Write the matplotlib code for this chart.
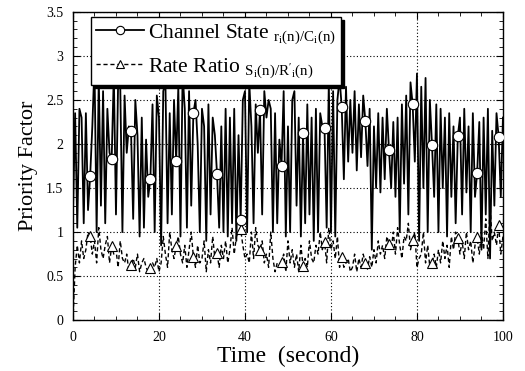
import numpy as np
import matplotlib.pyplot as plt
from matplotlib.ticker import MultipleLocator, FormatStrFormatter

# channel state r_i(n)/C_i(n), one sample every 0.5 s
channel_state = [
    1.20, 2.35, 1.05, 2.40, 2.30, 1.10, 2.35, 1.25, 1.64, 2.20,
    2.90, 1.00, 2.75, 1.30, 2.60, 1.10, 2.40, 1.90, 1.83, 2.80,
    1.20, 2.70, 2.65, 1.00, 2.55, 1.90, 2.20, 2.15, 1.15, 2.50,
    2.10, 0.95, 2.30, 1.05, 2.05, 1.40, 1.60, 2.45, 1.00, 2.55,
    2.30, 0.85, 2.60, 2.70, 1.10, 2.35, 1.20, 2.50, 1.81, 2.65,
    0.95, 2.80, 2.40, 1.05, 2.60, 1.30, 2.35, 2.50, 2.00, 1.00,
    2.40, 2.20, 0.90, 2.45, 1.20, 2.30, 2.10, 1.66, 1.05, 2.20,
    1.00, 2.40, 0.95, 2.30, 1.10, 2.40, 0.90, 2.10, 1.14, 2.50,
    2.60, 1.00, 2.70, 2.20, 1.10, 2.45, 1.90, 2.39, 1.20, 2.60,
    2.30, 2.50, 2.40, 1.00, 2.35, 1.10, 2.05, 1.75, 2.60, 0.95,
    2.20, 1.00, 2.50, 2.60, 1.30, 2.30, 0.95, 2.12, 1.10, 2.45,
    1.20, 2.30, 0.90, 2.40, 1.00, 2.35, 2.20, 2.18, 1.05, 2.70,
    1.00, 2.60, 0.95, 2.50, 2.75, 2.42, 1.60, 2.65, 1.80, 2.50,
    1.90, 2.60, 1.70, 2.45, 1.85, 2.55, 2.26, 1.75, 2.40, 0.80,
    2.20, 1.50, 2.35, 1.45, 2.30, 1.60, 2.40, 1.93, 1.50, 2.25,
    1.40, 2.30, 1.00, 2.45, 1.55, 2.55, 1.20, 2.70, 2.45, 1.80,
    2.80, 0.90, 2.65, 1.50, 2.75, 1.00, 2.50, 1.99, 1.40, 2.45,
    1.00, 2.40, 1.50, 2.30, 0.95, 2.35, 1.40, 2.20, 1.10, 2.09,
    2.30, 1.20, 2.40, 1.45, 2.20, 1.00, 2.35, 1.40, 1.67, 2.25,
    0.80, 2.30, 1.20, 2.40, 0.70, 2.15, 1.30, 2.35, 2.08, 1.40,
    2.30,
]

# rate ratio S_i(n)/R'_i(n)
rate_ratio = [
    0.00, 0.60, 0.85, 0.65, 0.90, 0.70, 0.80, 1.00, 0.95, 0.75,
    0.90, 0.65, 1.05, 0.80, 0.70, 0.85, 0.95, 0.65, 0.84, 0.75,
    0.80, 0.60, 0.90, 0.70, 0.65, 0.75, 0.55, 0.63, 0.70, 0.60,
    0.75, 0.55, 0.65, 0.70, 0.60, 0.55, 0.59, 0.65, 0.60, 0.70,
    0.55, 0.65, 0.95, 0.75, 0.60, 1.00, 0.80, 0.70, 0.84, 0.95,
    0.75, 0.65, 0.85, 0.60, 0.80, 1.00, 0.72, 0.60, 0.85, 0.65,
    0.70, 0.90, 0.55, 0.80, 0.65, 0.95, 0.70, 0.76, 0.60, 0.85,
    0.70, 0.90, 0.65, 0.80, 1.05, 0.75, 0.95, 1.00, 1.03, 0.85,
    0.70, 0.75, 0.65, 1.00, 0.70, 1.05, 0.85, 0.80, 0.90, 0.65,
    0.75, 0.60, 1.00, 0.70, 0.55, 0.65, 0.60, 0.66, 0.75, 0.55,
    0.90, 0.65, 0.80, 0.60, 0.75, 0.55, 0.85, 0.62, 0.70, 0.60,
    0.90, 0.70, 0.65, 0.85, 0.75, 1.00, 0.80, 0.89, 0.65, 1.05,
    0.80, 0.90, 0.70, 0.95, 0.60, 0.72, 0.60, 0.65, 0.70, 0.55,
    0.60, 0.75, 0.55, 0.70, 0.60, 0.75, 0.65, 0.58, 0.72, 0.60,
    0.80, 0.65, 0.90, 0.75, 0.85, 0.70, 0.95, 0.87, 0.80, 1.00,
    0.75, 1.05, 0.85, 0.70, 0.95, 0.90, 1.10, 0.80, 0.91, 1.00,
    0.60, 0.70, 0.75, 1.00, 0.65, 0.85, 0.60, 0.65, 0.75, 0.60,
    0.80, 0.65, 0.90, 0.70, 0.85, 0.60, 0.95, 0.80, 1.00, 0.93,
    0.75, 0.90, 0.70, 1.00, 0.80, 0.90, 0.65, 0.85, 0.94, 0.75,
    1.00, 0.80, 1.15, 0.70, 1.30, 0.90, 1.00, 0.85, 1.08, 0.75,
    0.95,
]

# samples that carry a marker
marker_idx = [8, 18, 27, 36, 48, 56, 67, 78, 87, 97,
              107, 117, 125, 136, 147, 158, 167, 179, 188, 198]

time = np.linspace(0, 100, len(channel_state))

plt.rcParams["font.family"] = "Liberation Serif"
plt.rcParams["mathtext.fontset"] = "custom"
plt.rcParams["mathtext.rm"] = "Liberation Serif"
plt.rcParams["mathtext.it"] = "Liberation Serif"

fig = plt.figure(figsize=(5.25, 3.71), dpi=100)
ax = fig.add_axes([0.139, 0.137, 0.819, 0.831])

ax.plot(time, channel_state, color="black", lw=1.3, marker="o", markersize=7.5,
        markerfacecolor="white", markeredgecolor="black", markeredgewidth=0.8,
        markevery=marker_idx,
        label=r"Channel State $\mathregular{_{r_i(n)/C_i(n)}}$", zorder=3)
ax.plot(time, rate_ratio, color="black", lw=1.0, ls=(0, (3, 2)), marker="^",
        markersize=7.5, markerfacecolor="white", markeredgecolor="black",
        markeredgewidth=0.8, markevery=marker_idx,
        label=r"Rate Ratio $\mathregular{_{S_i(n)/R'_i(n)}}$", zorder=2)

ax.set_xlim(0, 100)
ax.set_ylim(0, 3.5)
ax.xaxis.set_major_locator(MultipleLocator(20))
ax.xaxis.set_minor_locator(MultipleLocator(5))
ax.yaxis.set_major_locator(MultipleLocator(0.5))
ax.yaxis.set_minor_locator(MultipleLocator(0.1))
ax.yaxis.set_major_formatter(FormatStrFormatter("%g"))
ax.tick_params(which="both", direction="in", top=True, right=True, labelsize=10)
ax.tick_params(which="major", length=5)
ax.tick_params(which="minor", length=3)
ax.tick_params(axis="x", pad=8)
ax.tick_params(axis="y", pad=7)
ax.grid(True, which="major", ls=(0, (1, 2)), color="black", lw=0.8)
for s in ax.spines.values():
    s.set_linewidth(1.0)

ax.set_xlabel("Time  (second)", fontsize=17, labelpad=1)
ax.set_ylabel("Priority Factor", fontsize=16, labelpad=6)

leg = ax.legend(loc="upper left", bbox_to_anchor=(0.042, 0.984), fontsize=15.5,
                frameon=True, fancybox=False, shadow={"color": "black", "alpha": 1},
                edgecolor="black", framealpha=1, handlelength=2.2,
                handletextpad=0.2, borderpad=0.25, labelspacing=0.45,
                borderaxespad=0, markerscale=0.8)
leg.get_frame().set_linewidth(1.0)

fig.savefig("out.png", dpi=100)
